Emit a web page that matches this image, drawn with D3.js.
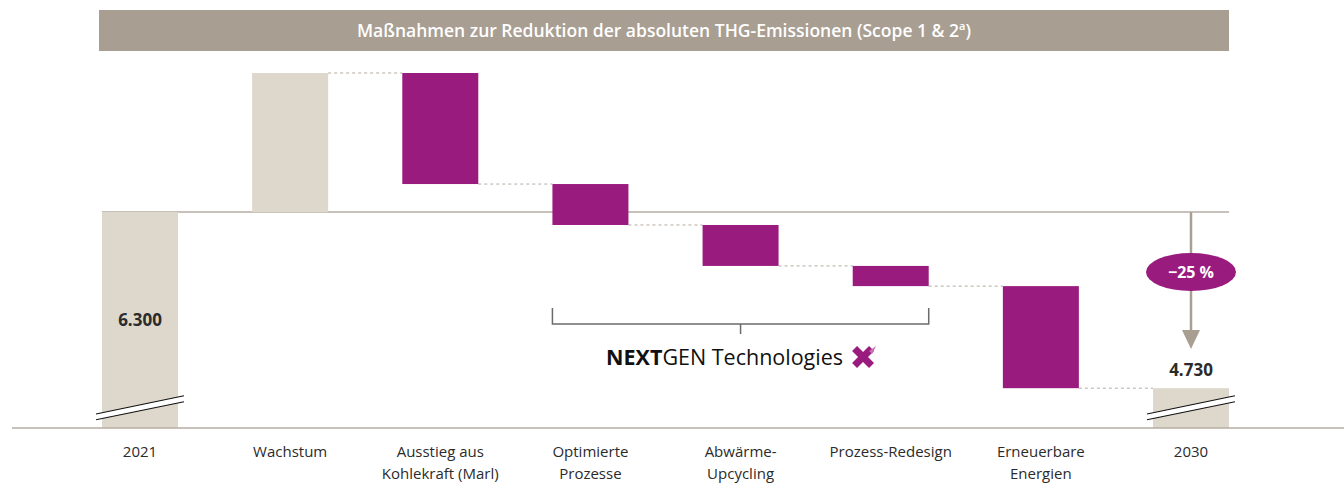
<!DOCTYPE html>
<html>
<head>
<meta charset="utf-8">
<script src="https://cdn.jsdelivr.net/npm/d3@7"></script>
<style>
  html, body { margin: 0; padding: 0; background: #fff; }
  svg { display: block; font-family: 'Open Sans', Lato, sans-serif; }
</style>
</head>
<body>
<svg id="chart" width="1344" height="499"></svg>
<script>
// categories of the waterfall, with the label lines printed under the axis
const categories = ['2021', 'Wachstum', 'Ausstieg', 'Optimierte', 'Abwaerme', 'Prozess', 'Erneuerbare', '2030'];
const labels = [
  ['2021'],
  ['Wachstum'],
  ['Ausstieg aus', 'Kohlekraft (Marl)'],
  ['Optimierte', 'Prozesse'],
  ['Abwärme-', 'Upcycling'],
  ['Prozess-Redesign'],
  ['Erneuerbare', 'Energien'],
  ['2030'],
];
// emissions in t CO2e: starting total, changes per measure, resulting total
const startValue = 6300;
const deltas = [1240, -990, -365, -365, -180, -910];
const endValue = 4730;
const valueLabels = ['6.300', '4.730'];
const reductionLabel = '−25 %';
// the value axis is broken, bars start from this value
const axisFloor = 4375;
// measures grouped under the NEXTGEN bracket
const nextgenRange = ['Optimierte', 'Prozess'];

const colors = {
  band: '#a89e92',
  total: '#ded7cb',
  reduction: '#991b7e',
  axis: '#b6ada3',
  dash: '#b3aba1',
  text: '#2b2b2b',
};

const svg = d3.select('#chart');

// build the rows of the waterfall from the arrays above
let running = startValue;
const rows = [{ category: categories[0], from: axisFloor, to: startValue, total: true }];
deltas.forEach((d, i) => {
  rows.push({ category: categories[i + 1], from: running, to: running + d, total: false, delta: d });
  running += d;
});
rows.push({ category: categories[categories.length - 1], from: axisFloor, to: endValue, total: true });

const xScale = d3
  .scalePoint()
  .domain(categories)
  .range([140, 1191]);
const barWidth = 76;

const yScale = d3
  .scaleLinear()
  .domain([axisFloor, d3.max(rows, r => Math.max(r.from, r.to))])
  .range([428, 73]);

// title band
svg
  .append('rect')
  .attr('x', 99)
  .attr('y', 10)
  .attr('width', 1130)
  .attr('height', 41)
  .attr('fill', colors.band);

const title = svg
  .append('text')
  .attr('x', 664)
  .attr('y', 37)
  .attr('text-anchor', 'middle')
  .attr('fill', '#fff')
  .attr('font-size', 17.5)
  .attr('font-weight', 600);
title.append('tspan').text('Maßnahmen zur Reduktion der absoluten THG-Emissionen (Scope 1 & 2');
title.append('tspan').attr('font-size', 11).attr('dy', -7).text('a');
title.append('tspan').attr('dy', 7).text(')');

// reference line at the 2021 level
svg
  .append('line')
  .attr('x1', xScale(categories[0]) - barWidth / 2)
  .attr('x2', xScale(categories[categories.length - 1]) + barWidth / 2)
  .attr('y1', yScale(startValue))
  .attr('y2', yScale(startValue))
  .attr('stroke', colors.axis)
  .attr('stroke-width', 1.5);

// dashed connectors between consecutive bars
for (let i = 2; i < rows.length; i += 1) {
  const level = rows[i - 1].to;
  svg
    .append('line')
    .attr('x1', xScale(rows[i - 1].category) + barWidth / 2)
    .attr('x2', xScale(rows[i].category) - barWidth / 2)
    .attr('y1', yScale(level))
    .attr('y2', yScale(level))
    .attr('stroke', colors.dash)
    .attr('stroke-width', 1)
    .attr('stroke-dasharray', '3 3');
}

// bars
svg
  .append('g')
  .selectAll('rect')
  .data(rows)
  .join('rect')
  .attr('x', d => xScale(d.category) - barWidth / 2)
  .attr('y', d => yScale(Math.max(d.from, d.to)))
  .attr('width', barWidth)
  .attr('height', d => Math.abs(yScale(d.from) - yScale(d.to)))
  .attr('fill', d => (d.total || d.delta > 0 ? colors.total : colors.reduction));

// axis line
svg
  .append('line')
  .attr('x1', 12)
  .attr('x2', 1344)
  .attr('y1', yScale(axisFloor))
  .attr('y2', yScale(axisFloor))
  .attr('stroke', colors.axis)
  .attr('stroke-width', 1.5);

// break marks on the total bars
rows.filter(r => r.total).forEach(r => {
  const cx = xScale(r.category);
  const cy = 408;
  const g = svg.append('g').attr('transform', `translate(${cx} ${cy})`);
  g.append('polygon')
    .attr('points', '-44,6 44,-12.3 44,-6.3 -44,11.7')
    .attr('fill', '#fff');
  g.append('line')
    .attr('x1', -44).attr('y1', 6).attr('x2', 44).attr('y2', -12.3)
    .attr('stroke', '#111').attr('stroke-width', 1.1);
  g.append('line')
    .attr('x1', -44).attr('y1', 11.7).attr('x2', 44).attr('y2', -6.3)
    .attr('stroke', '#111').attr('stroke-width', 1.1);
});

// value labels of the totals
svg
  .append('text')
  .attr('x', xScale(categories[0]))
  .attr('y', 326)
  .attr('text-anchor', 'middle')
  .attr('font-size', 17)
  .attr('font-weight', 700)
  .attr('fill', colors.text)
  .text(valueLabels[0]);

svg
  .append('text')
  .attr('x', xScale(categories[categories.length - 1]))
  .attr('y', yScale(endValue) - 12)
  .attr('text-anchor', 'middle')
  .attr('font-size', 17)
  .attr('font-weight', 700)
  .attr('fill', colors.text)
  .text(valueLabels[1]);

// category labels
const labelGroup = svg.append('g');
categories.forEach((c, i) => {
  const t = labelGroup
    .append('text')
    .attr('x', xScale(c))
    .attr('y', 457)
    .attr('text-anchor', 'middle')
    .attr('font-size', 15)
    .attr('fill', colors.text);
  labels[i].forEach((line, j) => {
    t.append('tspan')
      .attr('x', xScale(c))
      .attr('dy', j === 0 ? 0 : 21.5)
      .text(line);
  });
});

// reduction arrow from the 2021 level to the 2030 total
const ax = xScale(categories[categories.length - 1]);
svg
  .append('line')
  .attr('x1', ax)
  .attr('x2', ax)
  .attr('y1', yScale(startValue))
  .attr('y2', 332)
  .attr('stroke', colors.band)
  .attr('stroke-width', 2.5);
svg
  .append('polygon')
  .attr('points', `${ax - 9},330 ${ax + 9},330 ${ax},349`)
  .attr('fill', colors.band);
svg
  .append('ellipse')
  .attr('cx', ax)
  .attr('cy', 272)
  .attr('rx', 45)
  .attr('ry', 19)
  .attr('fill', colors.reduction);
svg
  .append('text')
  .attr('x', ax)
  .attr('y', 278)
  .attr('text-anchor', 'middle')
  .attr('font-size', 16)
  .attr('font-weight', 700)
  .attr('fill', '#fff')
  .text(reductionLabel);

// NEXTGEN bracket
const bx0 = xScale(nextgenRange[0]) - barWidth / 2;
const bx1 = xScale(nextgenRange[1]) + barWidth / 2;
const bmid = (bx0 + bx1) / 2;
svg
  .append('path')
  .attr('d', `M${bx0},308 V324 H${bx1} V308 M${bmid},324 V334`)
  .attr('fill', 'none')
  .attr('stroke', '#6b6b6b')
  .attr('stroke-width', 1.5);

const nextgen = svg
  .append('text')
  .attr('y', 365)
  .attr('font-size', 21.5)
  .attr('fill', '#111');
nextgen.append('tspan').attr('font-weight', 700).text('NEXT');
nextgen.append('tspan').text('GEN Technologies');
const textWidth = nextgen.node().getComputedTextLength();
const logoSize = 24;
const startX = bmid - (textWidth + 8 + logoSize) / 2;
nextgen.attr('x', startX);

// small X logo after the text
const logo = svg
  .append('g')
  .attr('transform', `translate(${startX + textWidth + 8 + logoSize / 2} 357)`)
  .attr('fill', colors.reduction);
logo.append('rect').attr('x', -12).attr('y', -3.5).attr('width', 24).attr('height', 7).attr('transform', 'rotate(45)');
logo.append('rect').attr('x', -12).attr('y', -3.5).attr('width', 24).attr('height', 7).attr('transform', 'rotate(-45)');
logo.append('path').attr('d', 'M6,-6 L13,-11 L9,-3 Z').attr('fill', '#c56fb0');
</script>
</body>
</html>
